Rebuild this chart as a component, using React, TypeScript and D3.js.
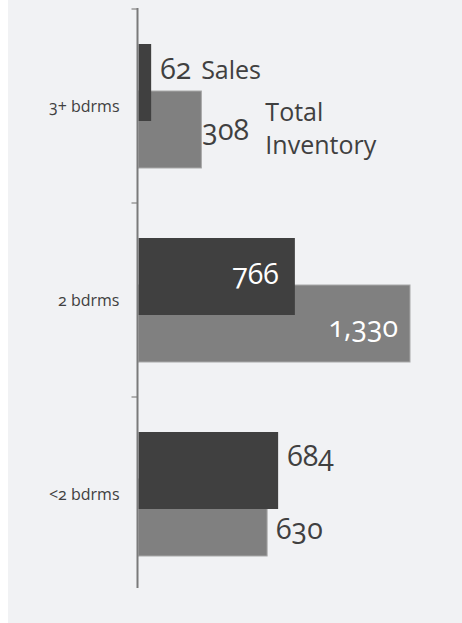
import React from "react";
import * as d3 from "d3";

const categories = ["3+ bdrms", "2 bdrms", "<2 bdrms"];
const sales = [62, 766, 684];
const inventory = [308, 1330, 630];
const seriesNames = ["Sales", "Total Inventory"];

// label layout tweaks (baseline offsets of value labels from bar centre, px)
const salesLabelDy = [-3.5, 7, -5];
const invLabelDy = [10.5, 13, 21];
const salesInside = [false, true, false];
const invInside = [false, true, false];
const invLabelGap = [1, 12, 9];

const W = 454;
const H = 623;
const OX = 8; // svg left offset on page

export default function App() {
  const x = d3.scaleLinear().domain([0, 1330]).range([138.5 - OX, 410 - OX]);
  const y = d3.scaleBand().domain(categories).range([9, 591]).padding(0);
  const step = y.step();
  const barH = 77;
  const salesOff = -62;
  const invOff = -15;
  const font = "'Open Sans', Lato, sans-serif";
  const axisX = 137.5 - OX;
  const onum = { fontVariantNumeric: "oldstyle-nums" } as React.CSSProperties;
  const numSize = 28.5;
  const txt = "#404040";

  return (
    <svg
      width={W}
      height={H}
      style={{ position: "absolute", left: OX, top: 0, background: "#f1f2f4" }}
      fontFamily={font}
    >
      <rect x={0} y={0} width={W} height={H} fill="#f1f2f4" />
      {categories.map((c, i) => {
        const cy = (y(c) as number) + step / 2;
        const x0 = x(0);
        const xs = x(sales[i]);
        const xi = x(inventory[i]);
        const sTop = cy + salesOff;
        const iTop = cy + invOff;
        return (
          <g key={c}>
            <rect x={x0} y={iTop} width={xi - x0} height={barH} fill="#808080" stroke="#a8a8a8" strokeWidth={1} />
            <rect x={x0} y={sTop} width={xs - x0} height={barH} fill="#404040" />
            <text x={axisX - 18} y={cy + 5.5} textAnchor="end" fontSize={16} fill={txt} style={onum}>
              {c}
            </text>
            <text
              x={salesInside[i] ? xs - 16 : xs + 9}
              y={sTop + barH / 2 + salesLabelDy[i]}
              textAnchor={salesInside[i] ? "end" : "start"}
              fontSize={numSize}
              fill={salesInside[i] ? "#ffffff" : txt}
              style={onum}
            >
              {d3.format(",")(sales[i])}
            </text>
            <text
              x={invInside[i] ? xi - invLabelGap[i] : xi + invLabelGap[i]}
              y={iTop + barH / 2 + invLabelDy[i]}
              textAnchor={invInside[i] ? "end" : "start"}
              fontSize={numSize}
              fill={invInside[i] ? "#ffffff" : txt}
              style={onum}
            >
              {d3.format(",")(inventory[i])}
            </text>
            {i === 0 && (
              <g>
                <text x={xs + 50} y={sTop + barH / 2 - 3.5} fontSize={25} fill={txt}>
                  {seriesNames[0]}
                </text>
                <text x={xi + 64} y={iTop + barH / 2 - 9} fontSize={25} fill={txt}>
                  <tspan x={xi + 64}>{seriesNames[1].split(" ")[0]}</tspan>
                  <tspan x={xi + 64} dy={33}>{seriesNames[1].split(" ")[1]}</tspan>
                </text>
              </g>
            )}
            <line x1={axisX - 6} x2={axisX} y1={y(c) as number} y2={y(c) as number} stroke="#9a9a9a" strokeWidth={1.5} />
          </g>
        );
      })}
      <line x1={axisX} x2={axisX} y1={8} y2={588} stroke="#7a7a7a" strokeWidth={2} />
    </svg>
  );
}
